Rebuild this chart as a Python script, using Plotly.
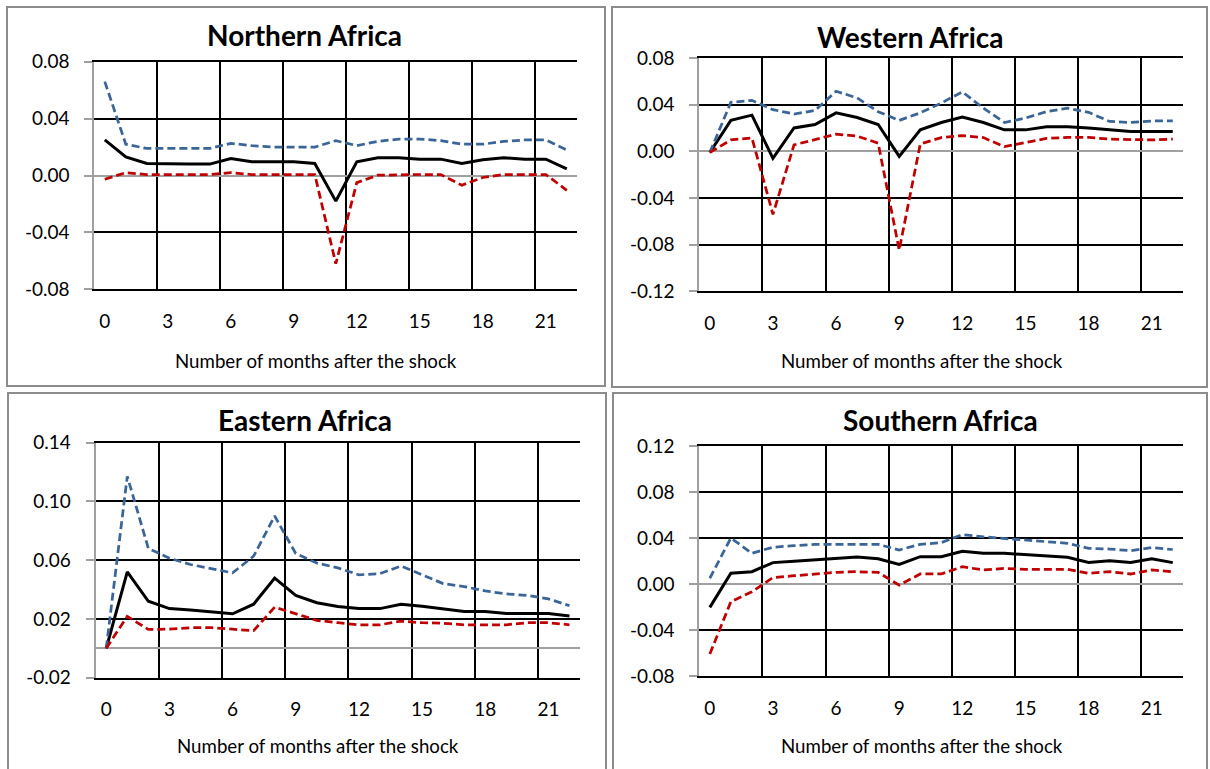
import plotly.graph_objects as go

# ---------------- data ----------------
months = list(range(23))
tick_months = [0, 3, 6, 9, 12, 15, 18, 21]
tick_labels = [str(m) for m in tick_months]
grid_bounds = [-0.5, 2.5, 5.5, 8.5, 11.5, 14.5, 17.5, 20.5]
x_title = "Number of months after the shock"

titles = ["Northern Africa", "Western Africa", "Eastern Africa", "Southern Africa"]

north_est = [0.025, 0.013, 0.0085, 0.008, 0.008, 0.008, 0.012, 0.0096, 0.0096, 0.0096, 0.0085, -0.018,
             0.0096, 0.0125, 0.0125, 0.0115, 0.0115, 0.0085, 0.011, 0.0125, 0.0115, 0.0115, 0.0047]
north_upper = [0.066, 0.022, 0.019, 0.019, 0.019, 0.019, 0.0226, 0.021, 0.020, 0.020, 0.020, 0.0245,
               0.021, 0.024, 0.0256, 0.0256, 0.0245, 0.022, 0.022, 0.024, 0.025, 0.025, 0.018]
north_lower = [-0.0026, 0.002, 0.0007, 0.0007, 0.0007, 0.0007, 0.002, 0.0007, 0.0007, 0.0007, 0.0007, -0.062,
               -0.005, 0.0002, 0.0007, 0.0007, 0.0007, -0.0068, -0.0014, 0.0007, 0.0007, 0.0007, -0.0104]

west_est = [-0.001, 0.0265, 0.031, -0.006, 0.020, 0.023, 0.033, 0.029, 0.023, -0.0043, 0.0184, 0.0247,
            0.0293, 0.0247, 0.0184, 0.0184, 0.021, 0.021, 0.020, 0.0184, 0.017, 0.017, 0.017]
west_upper = [-0.001, 0.042, 0.0437, 0.0357, 0.032, 0.035, 0.0515, 0.0458, 0.034, 0.0265, 0.033, 0.0414,
              0.051, 0.037, 0.0247, 0.0285, 0.034, 0.037, 0.0334, 0.0256, 0.0247, 0.026, 0.026]
west_lower = [-0.001, 0.0098, 0.0115, -0.054, 0.0055, 0.0098, 0.0147, 0.013, 0.007, -0.0846, 0.0063, 0.0118,
              0.0135, 0.0118, 0.004, 0.0075, 0.011, 0.012, 0.012, 0.0104, 0.0098, 0.0098, 0.0104]

east_est = [0.0, 0.052, 0.032, 0.027, 0.026, 0.0248, 0.0235, 0.030, 0.0478, 0.036, 0.031, 0.0284,
            0.027, 0.027, 0.030, 0.0286, 0.027, 0.025, 0.025, 0.0236, 0.0236, 0.0236, 0.022]
east_upper = [0.0, 0.117, 0.068, 0.0613, 0.057, 0.054, 0.0513, 0.0627, 0.090, 0.0645, 0.058, 0.0547,
              0.050, 0.0508, 0.056, 0.050, 0.044, 0.042, 0.039, 0.037, 0.036, 0.0336, 0.029]
east_lower = [0.0, 0.0217, 0.0128, 0.013, 0.014, 0.014, 0.013, 0.012, 0.028, 0.0234, 0.019, 0.0174,
              0.016, 0.016, 0.0185, 0.0174, 0.017, 0.016, 0.0158, 0.016, 0.0174, 0.0174, 0.016]

south_est = [-0.0203, 0.0093, 0.0107, 0.0186, 0.0197, 0.021, 0.0217, 0.0235, 0.022, 0.017, 0.0238, 0.0238,
             0.0284, 0.0267, 0.0267, 0.0255, 0.0243, 0.0232, 0.0188, 0.0203, 0.0188, 0.022, 0.0186]
south_upper = [0.005, 0.040, 0.0267, 0.032, 0.0333, 0.0345, 0.0345, 0.0345, 0.0345, 0.0296, 0.0345, 0.036,
               0.043, 0.041, 0.0397, 0.038, 0.0365, 0.0354, 0.031, 0.0304, 0.029, 0.0316, 0.030]
south_lower = [-0.0609, -0.0154, -0.0067, 0.0055, 0.0072, 0.0087, 0.0101, 0.0107, 0.0101, -0.001, 0.0087, 0.0087,
               0.015, 0.0122, 0.0136, 0.0128, 0.0128, 0.0128, 0.0093, 0.0107, 0.0087, 0.0122, 0.0107]

north_yticks = [-0.08, -0.04, 0.00, 0.04, 0.08]
west_yticks = [-0.12, -0.08, -0.04, 0.00, 0.04, 0.08]
east_yticks = [-0.02, 0.02, 0.06, 0.10, 0.14]
south_yticks = [-0.08, -0.04, 0.00, 0.04, 0.08, 0.12]

series = [
    (north_est, north_upper, north_lower),
    (west_est, west_upper, west_lower),
    (east_est, east_upper, east_lower),
    (south_est, south_upper, south_lower),
]
yticks_all = [north_yticks, west_yticks, east_yticks, south_yticks]

# ---------------- layout geometry (pixels) ----------------
W, H = 1210, 769
plot_boxes = [  # x0, x1, y0(top), y1(bottom)
    (94.3, 577.3, 61.7, 289.3),
    (699.3, 1183.3, 58.0, 291.3),
    (95.7, 580.0, 442.5, 677.7),
    (699.3, 1183.3, 446.0, 676.0),
]
frames = [(7, 605, 7, 386), (612, 1207, 7, 387), (8, 606, 393, 800), (613, 1207, 393, 800)]
title_pos = [(304, 35), (910, 37), (305, 420), (940, 420)]
xtitle_pos = [(316, 361), (922, 361), (318, 746), (922, 746)]

FONT = "Lato"
BLACK = "#000000"
BLUE = "#3B6597"
RED = "#C00000"
AXIS_GRAY = "#A0A0A0"

fig = go.Figure()
layout = dict(
    width=W, height=H, margin=dict(l=0, r=0, t=0, b=0, autoexpand=False),
    paper_bgcolor="white", plot_bgcolor="white", showlegend=False,
    font=dict(family=FONT, color="black"),
    shapes=[], annotations=[],
)

for k in range(4):
    n = k + 1
    xa = "x" if n == 1 else f"x{n}"
    ya = "y" if n == 1 else f"y{n}"
    est, up, lo = series[k]
    fig.add_trace(go.Scatter(x=months, y=est, mode="lines", xaxis=xa, yaxis=ya,
                             line=dict(color=BLACK, width=3)))
    fig.add_trace(go.Scatter(x=months, y=up, mode="lines", xaxis=xa, yaxis=ya,
                             line=dict(color=BLUE, width=2.75, dash="8px,4px")))
    fig.add_trace(go.Scatter(x=months, y=lo, mode="lines", xaxis=xa, yaxis=ya,
                             line=dict(color=RED, width=2.75, dash="8px,4px")))

    x0, x1, yt, yb = plot_boxes[k]
    yt_vals = yticks_all[k]
    layout["xaxis" if n == 1 else f"xaxis{n}"] = dict(
        domain=[x0 / W, x1 / W], anchor=ya, range=[-0.5, 22.5],
        tickmode="array", tickvals=tick_months, ticktext=tick_labels,
        showgrid=False, zeroline=False, ticks="",
        showline=True, linecolor=BLACK, linewidth=1.5, mirror=True,
        ticklabelstandoff=14, automargin=False,
        tickfont=dict(family=FONT, size=19, color="black"),
        minor=dict(tickmode="array", tickvals=grid_bounds, showgrid=True,
                   gridcolor=BLACK, gridwidth=1.5, ticks=""),
    )
    layout["yaxis" if n == 1 else f"yaxis{n}"] = dict(
        domain=[1 - yb / H, 1 - yt / H], anchor=xa, range=[yt_vals[0], yt_vals[-1]],
        tickmode="array", tickvals=yt_vals, ticktext=[f"{v:.2f}" for v in yt_vals],
        showgrid=True, gridcolor=BLACK, gridwidth=1.5,
        zeroline=True, zerolinecolor=AXIS_GRAY, zerolinewidth=2,
        showline=True, linecolor=AXIS_GRAY, linewidth=2,
        ticks="outside", ticklen=8, tickcolor=AXIS_GRAY, tickwidth=1.5,
        ticklabelstandoff=11, automargin=False,
        tickfont=dict(family=FONT, size=19, color="black"),
    )
    fx0, fx1, fy0, fy1 = frames[k]
    layout["shapes"].append(dict(type="rect", xref="paper", yref="paper",
                                 x0=fx0 / W, x1=fx1 / W, y0=1 - fy1 / H, y1=1 - fy0 / H,
                                 line=dict(color="#8C8C8C", width=2), layer="below"))
    tx, ty = title_pos[k]
    layout["annotations"].append(dict(text=f"<b>{titles[k]}</b>", xref="paper", yref="paper",
                                      x=tx / W, y=1 - ty / H, showarrow=False,
                                      xanchor="center", yanchor="middle",
                                      font=dict(family=FONT, size=28, color="black")))
    ax, ay = xtitle_pos[k]
    layout["annotations"].append(dict(text=x_title, xref="paper", yref="paper",
                                      x=ax / W, y=1 - ay / H, showarrow=False,
                                      xanchor="center", yanchor="middle",
                                      font=dict(family=FONT, size=18.7, color="black")))

fig.update_layout(**layout)
fig.write_html(
    "out.html",
    config={"displayModeBar": False},
    post_script=("document.documentElement.style.margin='0';"
                 "document.body.style.margin='0';"
                 "document.body.style.padding='0';"
                 "document.documentElement.style.overflow='hidden';"
                 "document.body.style.overflow='hidden';"),
)
